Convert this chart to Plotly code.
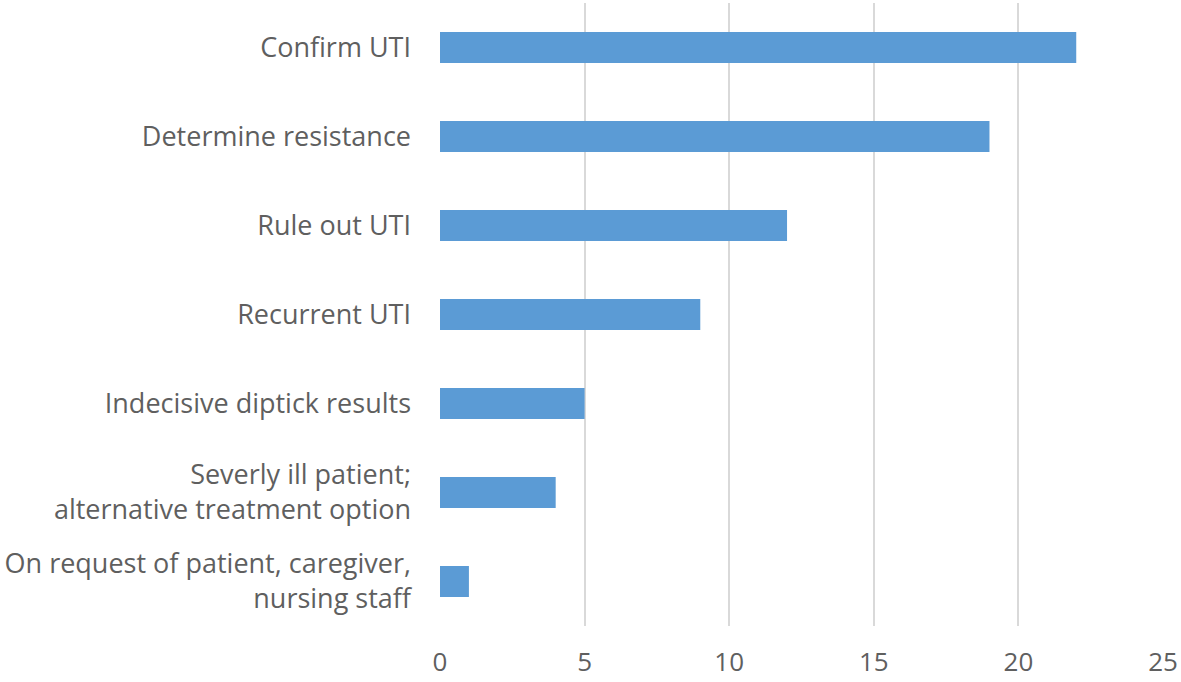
import plotly.graph_objects as go

categories = [
    "Confirm UTI",
    "Determine resistance",
    "Rule out UTI",
    "Recurrent UTI",
    "Indecisive diptick results",
    "Severly ill patient;<br>alternative treatment option",
    "On request of patient, caregiver,<br>nursing staff",
]
values = [22, 19, 12, 9, 5, 4, 1]
x_ticks = [0, 5, 10, 15, 20, 25]

fig = go.Figure(
    go.Bar(
        x=values,
        y=categories,
        orientation="h",
        width=0.35,
        marker=dict(color="#5B9BD5", line=dict(width=0)),
    )
)

fig.update_layout(
    width=1181,
    height=682,
    margin=dict(l=440, r=18, t=3, b=54),
    paper_bgcolor="white",
    plot_bgcolor="white",
    showlegend=False,
    font=dict(family="Open Sans", size=27, color="#5F5F5F"),
)
fig.update_xaxes(
    range=[0, 25],
    tickvals=x_ticks,
    showgrid=True,
    gridcolor="#D9D9D9",
    gridwidth=2,
    zeroline=False,
    showline=False,
    ticks="",
    ticklabelstandoff=18,
    tickfont=dict(size=26),
)
fig.update_yaxes(
    autorange="reversed",
    showgrid=False,
    zeroline=False,
    showline=False,
    ticks="",
    ticklabelstandoff=28,
    tickfont=dict(size=27),
)

fig.write_html(
    "out.html",
    config={"displayModeBar": False},
    post_script="document.body.style.margin='0';",
)
